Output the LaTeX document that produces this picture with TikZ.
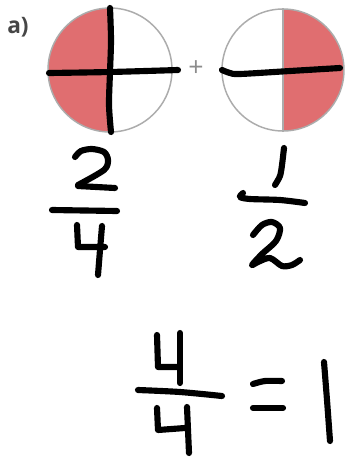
\documentclass[tikz,border=0pt]{standalone}
\usepackage{fontspec}
\usepackage{tikz}
\usetikzlibrary{positioning}
\newfontfamily\labelfont{Open Sans}
\definecolor{FracRed}{RGB}{224, 110, 112}
\definecolor{FracRim}{RGB}{172, 172, 172}
\definecolor{FracPlus}{RGB}{140, 140, 140}
\definecolor{FracInk}{RGB}{0, 0, 0}
\definecolor{FracLabel}{RGB}{70, 70, 70}

\begin{document}
\begin{tikzpicture}[x=0.75pt,y=-0.75pt,
    ink/.style={FracInk, line width=4.6pt, line cap=round, line join=round},
    rim/.style={FracRim, line width=1.1pt}]
  \path[use as bounding box] (0,0) rectangle (347,458);
  \fill[white] (0,0) rectangle (347,458);

  % Label
  \node[anchor=west, inner sep=0pt, text=FracLabel, font=\labelfont\bfseries\fontsize{17}{19}\selectfont] (lbl) at (7,27) {a)};

  % Left circle: two quarters shaded
  \begin{scope}
    \clip (110,70) circle[radius=62];
    \fill[FracRed] (40,0) rectangle (110,140);
  \end{scope}
  \draw[rim] (110,70) circle[radius=62];

  % Right circle: right half shaded
  \begin{scope}
    \clip (283,70) circle[radius=61];
    \fill[FracRed] (283,0) rectangle (350,140);
  \end{scope}
  \draw[rim] (283,8) -- (283,132);
  \draw[rim] (283,70) circle[radius=61];

  % Plus sign
  \node[text=FracPlus, font=\labelfont\fontsize{20}{20}\selectfont] (plus) at (196,69) {+};

  % Pen strokes on the circles
  \draw[ink] plot[smooth] coordinates {(110,8) (111,40) (110,72) (109,105) (111,132)};
  \draw[ink] plot[smooth] coordinates {(49,73) (110,72) (178,70)};
  \draw[ink] plot[smooth] coordinates {(222,70) (230,73) (240,74) (290,71) (340,68)};

  % 2/4
  \draw[ink] plot[smooth] coordinates {(75,157) (81,151) (92,149) (104,152) (108,160) (104,170) (78,185)};
  \draw[ink] (78,186) -- (115,188);
  \draw[ink] (52,210) -- (117,211);
  \draw[ink] (77,225) -- (78,247) -- (105,247);
  \draw[ink] plot[smooth] coordinates {(102,226) (100,250) (98,275)};

  % 1/2
  \draw[ink] plot[smooth] coordinates {(284,148) (282,165) (280,176) (275,185)};
  \draw[ink] plot[smooth] coordinates {(243,193) (240,197) (250,199) (280,200) (305,203)};
  \draw[ink] plot[smooth] coordinates {(253,235) (262,225) (272,222) (280,228) (276,241) (262,254) (252,265) (258,262) (270,258) (282,266) (292,265) (300,260)};

  % 4/4 = 1
  \draw[ink] (157,335) -- (158,367) -- (178,367);
  \draw[ink] (180,333) -- (180,383);
  \draw[ink] plot[smooth] coordinates {(138,390) (180,392) (222,396)};
  \draw[ink] (157,408) -- (158,430) -- (185,428);
  \draw[ink] plot[smooth] coordinates {(187,407) (188,430) (189,453)};
  \draw[ink] plot[smooth] coordinates {(253,384) (265,381) (282,381)};
  \draw[ink] (253,408) -- (283,408);
  \draw[ink] plot[smooth] coordinates {(324,362) (327,400) (330,441)};
\end{tikzpicture}
\end{document}
